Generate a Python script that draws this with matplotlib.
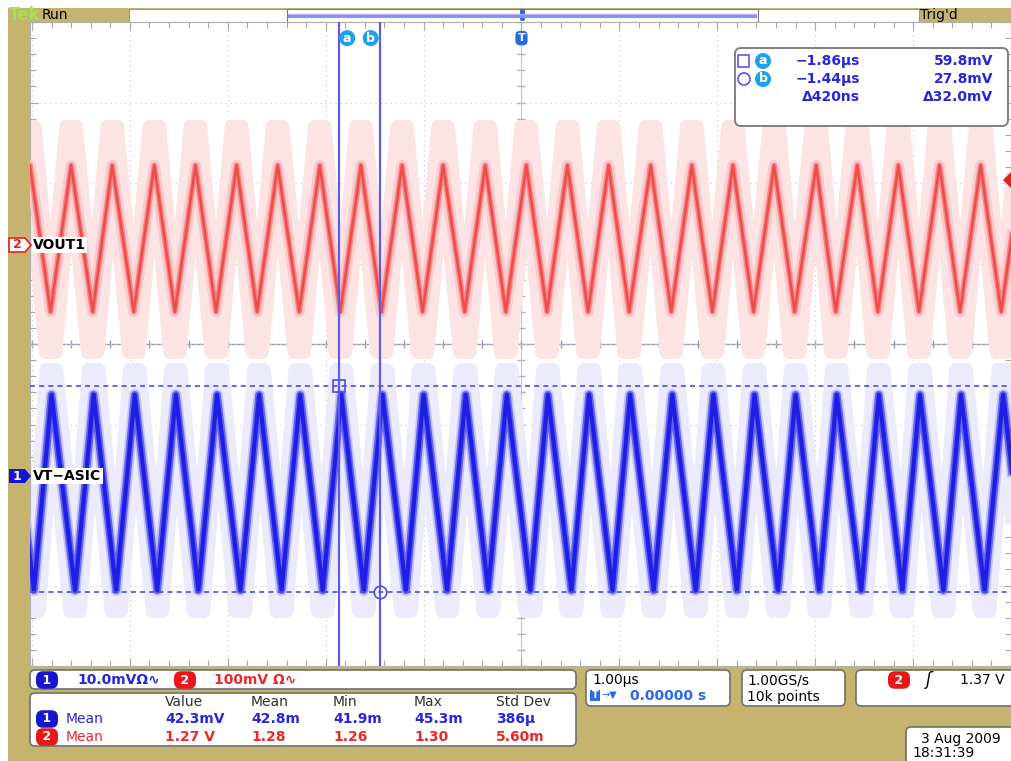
import numpy as np
import matplotlib.pyplot as plt
import matplotlib.patches as patches

plt.rcParams['font.family'] = ['DejaVu Sans']

# horizontal: microseconds (1.00us/div, trigger at 0); vertical: screen divisions
red_peak_t = [-5.02, -4.60, -4.18, -3.75, -3.33, -2.91, -2.49, -2.06, -1.64, -1.22, -0.80, -0.37,
              0.05, 0.47, 0.89, 1.32, 1.74, 2.16, 2.58, 3.01, 3.43, 3.85, 4.27, 4.69, 5.11]
red_trough_t = [-5.23, -4.81, -4.38, -3.96, -3.54, -3.12, -2.70, -2.27, -1.85, -1.43, -1.01, -0.58,
                -0.16, 0.26, 0.68, 1.10, 1.53, 1.95, 2.37, 2.79, 3.21, 3.64, 4.06, 4.48, 4.90]
red_peak_v = 2.22
red_trough_v = 0.40
red_env_peak = [2.70, 2.45]
red_env_trough = [-0.10, 0.15]

blue_peak_t = [-5.22, -4.80, -4.37, -3.95, -3.53, -3.11, -2.68, -2.26, -1.84, -1.42, -1.00, -0.57,
               -0.15, 0.27, 0.69, 1.11, 1.54, 1.96, 2.38, 2.80, 3.22, 3.65, 4.07, 4.49, 4.92]
blue_trough_t = [-4.98, -4.56, -4.14, -3.72, -3.30, -2.87, -2.45, -2.03, -1.61, -1.18, -0.76, -0.34,
                 0.09, 0.51, 0.93, 1.35, 1.78, 2.20, 2.62, 3.04, 3.47, 3.89, 4.31, 4.73, 5.15]
blue_peak_v = -0.63
blue_trough_v = -3.06
blue_env_peak = [-0.32, -0.47]
blue_env_trough = [-3.32, -3.20]

cursor_t = [-1.86, -1.44]
cursor_v = [-0.52, -3.08]
cursor_labels = ['a', 'b']
cursor_time_txt = ['\u22121.86\u00b5s', '\u22121.44\u00b5s']
cursor_volt_txt = ['59.8mV', '27.8mV']
cursor_delta = ['\u0394420ns', '\u039432.0mV']

stat_headers = ['Value', 'Mean', 'Min', 'Max', 'Std Dev']
ch1_stats = ['42.3mV', '42.8m', '41.9m', '45.3m', '386\u00b5']
ch2_stats = ['1.27 V', '1.28', '1.26', '1.30', '5.60m']

gold = '#c6b46e'
blue_txt = '#2626e0'
red_txt = '#e82a2a'


def trace(peaks, troughs, pv, tv, shift=0.0):
    pts = sorted([(t + shift, pv) for t in peaks] + [(t + shift, tv) for t in troughs])
    return [p[0] for p in pts], [p[1] for p in pts]


def pill(axis, x, y, s, color, size=9):
    axis.text(x, y, s, ha='center', va='center', color='white', fontsize=size, weight='bold',
              bbox=dict(boxstyle='round,pad=0.18,rounding_size=0.55', fc=color, ec='none'))


def rbox(axis, x, y, w, h, r=5):
    axis.add_patch(patches.FancyBboxPatch((x, y), w, h, boxstyle='round,pad=0,rounding_size=%g' % r,
                                          fc='white', ec='#707070', lw=1.2))


fig = plt.figure(figsize=(10.11, 7.61), dpi=100)

# background / frame in pixel coordinates
bg = fig.add_axes([0, 0, 1, 1], zorder=0)
bg.set_xlim(0, 1011)
bg.set_ylim(761, 0)
bg.axis('off')
bg.add_patch(patches.Rectangle((8, 8), 1003, 753, fc=gold, ec='none'))

# top bar
bg.text(9, 15, 'Tek', color='#a6e05a', fontsize=12, weight='bold', va='center')
bg.text(42, 15, 'Run', color='black', fontsize=10, va='center')
bg.text(920, 15, "Trig'd", color='black', fontsize=10, va='center')
bg.add_patch(patches.Rectangle((129, 9), 790, 13, fc='white', ec='#9a9a9a', lw=0.8))
bg.add_patch(patches.Rectangle((287, 9), 471, 13, fc='white', ec='#7a7a7a', lw=0.8))
bg.plot([288, 757], [15.5, 15.5], color='#9090f0', lw=3, solid_capstyle='butt')
bg.plot([288, 757], [13.5, 13.5], color='#b8b8f8', lw=0.6)
bg.add_patch(patches.FancyBboxPatch((520, 9), 5, 12, boxstyle='round,pad=0,rounding_size=2',
                                    fc='#2a6ae8', ec='none'))

# bottom readouts
rbox(bg, 30, 670, 546, 19)
pill(bg, 47, 680, ' 1 ', '#1616d0')
bg.text(77, 680, '10.0mV\u03a9\u223f', color=blue_txt, fontsize=10, weight='bold', va='center')
pill(bg, 185, 680, ' 2 ', '#e81818')
bg.text(214, 680, '100mV \u03a9\u223f', color=red_txt, fontsize=10, weight='bold', va='center')

rbox(bg, 30, 693, 546, 53)
col_x = [165, 251, 333, 414, 496]
for cx, h, v1, v2 in zip(col_x, stat_headers, ch1_stats, ch2_stats):
    bg.text(cx, 702, h, color='#303030', fontsize=10, va='center')
    bg.text(cx, 719, v1, color=blue_txt, fontsize=10, weight='bold', va='center')
    bg.text(cx, 737, v2, color=red_txt, fontsize=10, weight='bold', va='center')
pill(bg, 47, 719, ' 1 ', '#1616d0')
bg.text(66, 719, 'Mean', color=blue_txt, fontsize=10, va='center')
pill(bg, 47, 737, ' 2 ', '#e81818')
bg.text(66, 737, 'Mean', color=red_txt, fontsize=10, va='center')

rbox(bg, 586, 670, 144, 36)
bg.text(592, 680, '1.00\u00b5s', color='black', fontsize=10, va='center')
bg.add_patch(patches.Rectangle((590, 690), 10, 11, fc='#2a6ae8', ec='none'))
bg.text(595, 695.5, 'T', color='white', fontsize=7, weight='bold', ha='center', va='center')
bg.text(602, 695, '\u2192\u25bc', color='#2a6ae8', fontsize=7, va='center')
bg.text(630, 696, '0.00000 s', color='#2a6ae8', fontsize=10, weight='bold', va='center')

rbox(bg, 742, 670, 103, 36)
bg.text(747, 680, '1.00GS/s', color='black', fontsize=10, va='center')
bg.text(747, 697, '10k points', color='black', fontsize=10, va='center')

rbox(bg, 856, 670, 170, 36)
pill(bg, 899, 680, ' 2 ', '#e81818')
bg.text(926, 680, '\u0283', color='black', fontsize=12, va='center', style='italic')
bg.text(960, 680, '1.37 V', color='black', fontsize=10, va='center')

rbox(bg, 906, 727, 120, 50)
bg.text(921, 739, '3 Aug 2009', color='black', fontsize=10, va='center')
bg.text(912, 753, '18:31:39', color='black', fontsize=10, va='center')

# graticule
ax = fig.add_axes([30 / 1011, 95 / 761, 981 / 1011, 644 / 761], zorder=1)
ax.set_xlim(-5.02, 4.99)
ax.set_ylim(-4, 4)
ax.set_facecolor('white')
for s in ax.spines.values():
    s.set_color('#b0b0b0')
    s.set_linewidth(0.8)
ax.set_xticks(np.arange(-5, 6))
ax.set_xticks(np.arange(-5, 5.01, 0.2), minor=True)
ax.set_yticks(np.arange(-4, 5))
ax.set_yticks(np.arange(-4, 4.01, 0.2), minor=True)
ax.tick_params(which='both', direction='in', top=True, right=True, labelbottom=False,
               labelleft=False, color='#a8a8a8', width=0.8)
ax.tick_params(which='major', length=6)
ax.tick_params(which='minor', length=4)
ax.grid(which='major', color='#cfcfcf', ls=(0, (1, 3)), lw=0.9)
ax.axhline(0, color='#9c9cb0', lw=1.0, zorder=1)
ax.axvline(0, color='#c4c4d0', lw=0.8, zorder=1)
mx = np.arange(-5, 5.01, 0.2)
my = np.arange(-4, 4.01, 0.2)
ax.plot(mx, np.zeros_like(mx), ls='none', marker='|', ms=6, color='#9c9cb0', zorder=1)
ax.plot(np.zeros_like(my), my, ls='none', marker='_', ms=6, color='#b0b0c0', zorder=1)

# persistence envelopes
for pv, tv in zip(red_env_peak, red_env_trough):
    for sh in (-0.05, 0.0, 0.05):
        t, v = trace(red_peak_t, red_trough_t, pv, tv, sh)
        ax.plot(t, v, color='#fde4e4', lw=10, solid_joinstyle='round', zorder=2)
for pv, tv in zip(blue_env_peak, blue_env_trough):
    for sh in (-0.05, 0.0, 0.05):
        t, v = trace(blue_peak_t, blue_trough_t, pv, tv, sh)
        ax.plot(t, v, color='#ebebfc', lw=10, solid_joinstyle='round', zorder=2)

# traces
t, v = trace(red_peak_t, red_trough_t, red_peak_v, red_trough_v)
ax.plot(t, v, color='#fbcaca', lw=8, solid_joinstyle='round', zorder=3)
ax.plot(t, v, color='#f68888', lw=4, solid_joinstyle='round', zorder=3)
ax.plot(t, v, color='#ee4c4c', lw=1.8, solid_joinstyle='round', zorder=3)
t, v = trace(blue_peak_t, blue_trough_t, blue_peak_v, blue_trough_v)
ax.plot(t, v, color='#c2c2f8', lw=8, solid_joinstyle='round', zorder=3)
ax.plot(t, v, color='#6464ee', lw=5.5, solid_joinstyle='round', zorder=3)
ax.plot(t, v, color='#1e1ee4', lw=3, solid_joinstyle='round', zorder=3)

# cursors
for ct in cursor_t:
    ax.axvline(ct, color='#5c5ce6', lw=1.6, zorder=5)
for cv in cursor_v:
    ax.axhline(cv, color='#4c4ce8', lw=1.2, ls=(0, (3, 2.5)), zorder=5)
ax.plot(cursor_t[0], cursor_v[0], marker='s', ms=9, mfc='none', mec='#4c4ce8', mew=1.2, zorder=6)
ax.plot(cursor_t[1], cursor_v[1], marker='o', ms=9, mfc='none', mec='#4c4ce8', mew=1.2, zorder=6)
ax.text(cursor_t[0] + 0.08, 3.80, cursor_labels[0], color='white', fontsize=9, weight='bold',
        ha='center', va='center', zorder=7,
        bbox=dict(boxstyle='circle,pad=0.12', fc='#1ea0f0', ec='none'))
ax.text(cursor_t[1] - 0.10, 3.80, cursor_labels[1], color='white', fontsize=9, weight='bold',
        ha='center', va='center', zorder=7,
        bbox=dict(boxstyle='circle,pad=0.12', fc='#1ea0f0', ec='none'))
ax.text(0, 3.80, 'T', color='white', fontsize=8, weight='bold', ha='center', va='center', zorder=7,
        bbox=dict(boxstyle='round,pad=0.2,rounding_size=0.4', fc='#2a6ae8', ec='none'))

# overlay: channel markers, trigger level, cursor readout
top = fig.add_axes([0, 0, 1, 1], zorder=8)
top.set_xlim(0, 1011)
top.set_ylim(761, 0)
top.axis('off')
top.patch.set_alpha(0)
top.add_patch(patches.Polygon([(9, 238), (25, 238), (31, 245), (25, 252), (9, 252)],
                              closed=True, fc='white', ec='#e82020', lw=1.2))
top.text(17, 245, '2', color='#e82020', fontsize=9, weight='bold', ha='center', va='center')
top.text(33, 245, 'VOUT1', color='black', fontsize=10, weight='bold', va='center',
         bbox=dict(boxstyle='square,pad=0.1', fc='white', ec='none'))
top.add_patch(patches.Polygon([(9, 469), (25, 469), (31, 476), (25, 483), (9, 483)],
                              closed=True, fc='#1616d0', ec='none'))
top.text(17, 476, '1', color='white', fontsize=9, weight='bold', ha='center', va='center')
top.text(33, 476, 'VT\u2212ASIC', color='black', fontsize=10, weight='bold', va='center',
         bbox=dict(boxstyle='square,pad=0.1', fc='white', ec='none'))
top.add_patch(patches.Polygon([(1011, 172), (1011, 188), (1003, 180)], closed=True,
                              fc='#e82020', ec='none'))

top.add_patch(patches.FancyBboxPatch((735, 48), 273, 78, boxstyle='round,pad=0,rounding_size=6',
                                     fc='white', ec='#808080', lw=1.4))
row_y = [61, 79]
top.add_patch(patches.Rectangle((738, 55), 11, 12, fc='none', ec='#5a5ae8', lw=1.2))
top.add_patch(patches.Circle((744, 79), 6, fc='none', ec='#5a5ae8', lw=1.2))
for ry, lab, ts, vs in zip(row_y, cursor_labels, cursor_time_txt, cursor_volt_txt):
    top.text(763, ry, lab, color='white', fontsize=9, weight='bold', ha='center', va='center',
             bbox=dict(boxstyle='circle,pad=0.12', fc='#1ea0f0', ec='none'))
    top.text(796, ry, ts, color=blue_txt, fontsize=10, weight='bold', va='center')
    top.text(993, ry, vs, color=blue_txt, fontsize=10, weight='bold', va='center', ha='right')
top.text(802, 97, cursor_delta[0], color=blue_txt, fontsize=10, weight='bold', va='center')
top.text(993, 97, cursor_delta[1], color=blue_txt, fontsize=10, weight='bold', va='center', ha='right')

fig.savefig('out.png', dpi=100)
